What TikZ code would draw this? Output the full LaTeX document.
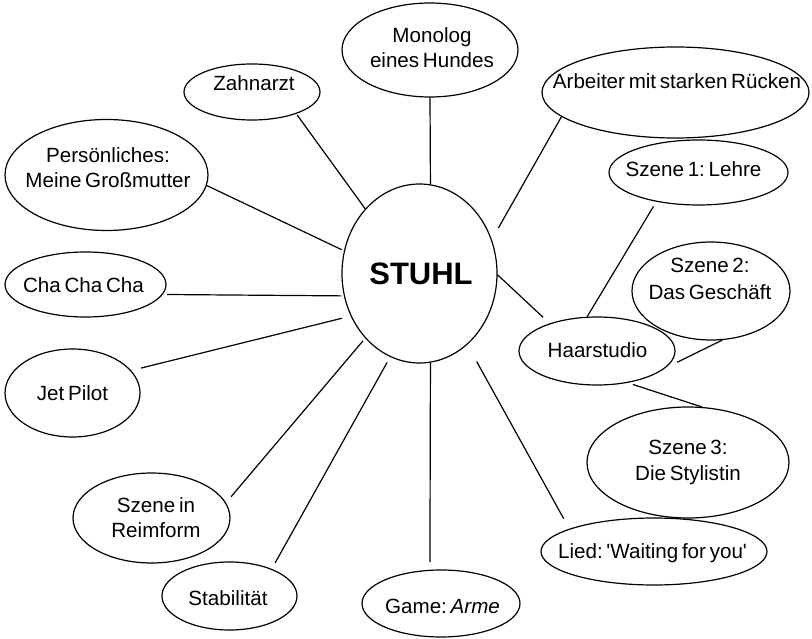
\documentclass[tikz,border=0pt]{standalone}
\usepackage{fontspec}
\setmainfont{Liberation Sans}
\newfontfamily\lfont{Liberation Sans}[WordSpace=0.65]
\usetikzlibrary{shapes.geometric,calc}
\newcommand{\twol}[3][25pt]{\vbox{\baselineskip=#1\relax\lineskiplimit=-100pt\halign{\hfil##\hfil\cr#2\cr#3\cr}}}
\frenchspacing
\begin{document}
\begin{tikzpicture}[x=1pt,y=-1pt,
  bub/.style={draw, ellipse, inner sep=0pt, line width=1.2pt},
  lbl/.style={anchor=base, inner sep=0pt, font=\lfont\fontsize{20.6}{24}\selectfont\frenchspacing},
  con/.style={line width=1.2pt}]
\useasboundingbox (0,0) rectangle (812,639);
% ellipses
\node[bub, minimum width=155pt, minimum height=179pt] (stuhl) at (419.5,273.5) {};
\node[bub, minimum width=176pt, minimum height=94pt] (mono) at (430,50) {};
\node[bub, minimum width=136pt, minimum height=56pt] (zahn) at (252,92) {};
\node[bub, minimum width=203pt, minimum height=111pt] (pers) at (106.5,175) {};
\node[bub, minimum width=161pt, minimum height=65pt] (cha) at (85.5,284.5) {};
\node[bub, minimum width=135pt, minimum height=88pt] (jet) at (72.5,393) {};
\node[bub, minimum width=157pt, minimum height=90pt] (reim) at (151.5,518) {};
\node[bub, minimum width=135pt, minimum height=68pt] (stab) at (229.5,596) {};
\node[bub, minimum width=158pt, minimum height=67pt] (game) at (441,603.5) {};
\node[bub, minimum width=226pt, minimum height=67pt] (lied) at (654,551.5) {};
\node[bub, minimum width=202pt, minimum height=111pt] (szd) at (688,462.5) {};
\node[bub, minimum width=156pt, minimum height=68pt] (haar) at (597,351) {};
\node[bub, minimum width=158pt, minimum height=98pt] (szb) at (711,291) {};
\node[bub, minimum width=179pt, minimum height=65pt] (sza) at (698.5,172.5) {};
\node[bub, minimum width=267pt, minimum height=91pt] (arb) at (675.5,92.5) {};
% texts
\node[anchor=base, inner sep=0pt, font=\lfont\fontsize{31}{36}\selectfont\bfseries] (tstuhl) at (421,285) {STUHL};
\node[lbl] (tmono) at (432,68) {\twol{Monolog}{eines Hundes}};
\node[lbl] (tzahn) at (254,91) {Zahnarzt};
\node[lbl] (tpers) at (108,188) {\twol{Persönliches:}{Meine Großmutter}};
\node[lbl] (tcha) at (83.5,293) {Cha Cha Cha};
\node[lbl] (tjet) at (72.5,400) {Jet Pilot};
\node[lbl] (treim) at (156,537) {\twol{Szene in}{Reimform}};
\node[lbl] (tstab) at (228,605) {Stabilität};
\node[lbl] (tgame) at (442.5,613) {Game: \textit{Arme}};
\node[lbl] (tlied) at (652.5,558) {Lied: 'Waiting for you'};
\node[lbl] (tszd) at (688,480) {\twol[26pt]{Szene 3:}{Die Stylistin}};
\node[lbl] (thaar) at (597.5,358) {Haarstudio};
\node[lbl] (tszb) at (710,300) {\twol[27pt]{Szene 2:}{Das Geschäft}};
\node[lbl] (tsza) at (693.5,177) {Szene 1: Lehre};
\node[lbl] (tarb) at (677,89) {Arbeiter mit starken Rücken};
% connectors
\draw[con] (mono.-90) -- (stuhl.83.3);
\draw[con] ($(zahn.center)!1.04!(zahn.-27)$) -- (stuhl.130.35);
\draw[con] (pers.-6.8) -- ($(stuhl.center)!1.03!(stuhl.163)$);
\draw[con] ($(cha.center)!1.05!(cha.-7.4)$) -- ($(stuhl.center)!1.03!(stuhl.-164.5)$);
\draw[con] ($(jet.center)!1.15!(jet.20.3)$) -- ($(stuhl.center)!1.11!(stuhl.-150.7)$);
\draw[con] ($(reim.center)!1.11!(reim.15.65)$) -- ($(stuhl.center)!1.04!(stuhl.-130.35)$);
\draw[con] ($(stab.center)!1.17!(stab.36.6)$) -- ($(stuhl.center)!1.07!(stuhl.-110.2)$);
\draw[con] (stuhl.-83.2) -- ($(game.center)!1.22!(game.105.2)$);
\draw[con] ($(stuhl.center)!1.22!(stuhl.-57.9)$) -- ($(lied.center)!1.25!(lied.160.1)$);
\draw[con] (arb.-168) -- ($(stuhl.center)!1.13!(stuhl.30.1)$);
\draw[con] (stuhl.-1.1) -- ($(haar.center)!1.19!(haar.148.6)$);
\draw[con] ($(sza.center)!1.14!(sza.-143)$) -- (haar.106.4);
\draw[con] (szb.-77.3) -- ($(haar.center)!1.07!(haar.-8.64)$);
\draw[con] ($(haar.center)!1.07!(haar.-43.3)$) -- (szd.76.8);
\end{tikzpicture}
\end{document}
